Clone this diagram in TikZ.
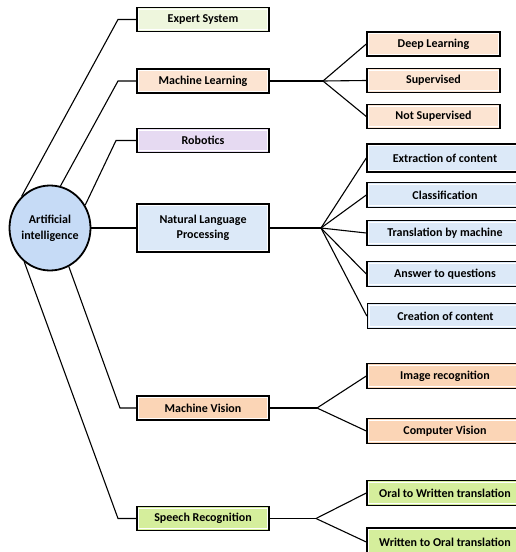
\documentclass[tikz,border=0pt]{standalone}
\usepackage{fontspec}
\setmainfont{Carlito}
\usetikzlibrary{shapes.geometric}
\definecolor{cES}{HTML}{EEF6DD}
\definecolor{cML}{HTML}{FCE4D2}
\definecolor{cRB}{HTML}{E6DAF2}
\definecolor{cNLP}{HTML}{DCE9F8}
\definecolor{cMV}{HTML}{FBD5B6}
\definecolor{cSR}{HTML}{D5EE9C}
\definecolor{cAI}{HTML}{C6DBF6}
\tikzset{
  box/.style={draw=black, line width=1.4pt, font=\bfseries\fontsize{12}{13}\selectfont,
    inner sep=0pt, align=center,
    path picture={\draw[white, line width=0.9pt]
      ([shift={(1.6pt,-1.6pt)}]path picture bounding box.north west) rectangle
      ([shift={(-1.6pt,1.6pt)}]path picture bounding box.south east);}},
  lone/.style={box, minimum width=132pt, minimum height=24pt},
  ltwo/.style={box, minimum width=133pt, minimum height=24pt},
  lwide/.style={box, minimum width=156pt, minimum height=25pt},
  conn/.style={line width=1.1pt, black},
}
\begin{document}
\begin{tikzpicture}[x=1pt, y=-1pt]
\useasboundingbox (0,0) rectangle (515,552);
% root
\node[ellipse, draw=black, line width=1.8pt, fill=cAI, minimum width=77pt, minimum height=85pt,
  inner sep=0pt, align=center, font=\bfseries\fontsize{12}{16}\selectfont] (ai) at (50,228) {Artificial\\intelligence};
% level 1
\node[lone, fill=cES] (es) at (203,19.5) {Expert System};
\node[lone, fill=cML] (ml) at (203,81) {Machine Learning};
\node[lone, fill=cRB] (rb) at (203,140.5) {Robotics};
\node[lone, fill=cNLP, minimum height=48pt] (nlp) at (203,228) {Natural Language\\[2pt]Processing};
\node[lone, fill=cMV] (mv) at (203,408) {Machine Vision};
\node[lone, fill=cSR] (sr) at (203,518.5) {Speech Recognition};
% elbows
\coordinate (ees) at (118,19.5);
\coordinate (eml) at (118,81);
\coordinate (erb) at (116,140.5);
\coordinate (emv) at (120,408);
\coordinate (esr) at (118,518.5);
\draw[conn] (ai.132) -- (ees) -- (es.west);
\draw[conn] (ai.76) -- (eml) -- (ml.west);
\draw[conn] (ai.33) -- (erb) -- (rb.west);
\draw[conn] (ai) -- (nlp);
\draw[conn] (ai.-64) -- (emv) -- (mv.west);
\draw[conn] (ai.-127) -- (esr) -- (sr.west);
% ML children
\node[ltwo, fill=cML] (dl) at (433.5,44) {Deep Learning};
\node[ltwo, fill=cML] (sup) at (433.5,80.5) {Supervised};
\node[ltwo, fill=cML] (ns) at (433.5,116.5) {Not Supervised};
\coordinate (bml) at (323,81);
\draw[conn] (ml.east) -- (bml);
\foreach \c in {dl,sup,ns} \draw[conn] (bml) -- (\c.west);
% NLP children
\node[lwide, fill=cNLP, minimum height=28pt] (ex) at (445,158) {Extraction of content};
\node[lwide, fill=cNLP] (cl) at (445,195) {Classification};
\node[lwide, fill=cNLP] (tr) at (445,233) {Translation by machine};
\node[lwide, fill=cNLP] (an) at (445,274) {Answer to questions};
\node[lwide, fill=cNLP] (cr) at (445.5,316) {Creation of content};
\coordinate (bnlp) at (321,228);
\draw[conn] (nlp.east) -- (bnlp);
\foreach \c in {ex,cl,tr,an,cr} \draw[conn] (bnlp) -- (\c.west);
% MV children
\node[lwide, fill=cMV] (ir) at (445,376) {Image recognition};
\node[lwide, fill=cMV] (cv) at (445,431) {Computer Vision};
\coordinate (bmv) at (317,408);
\draw[conn] (mv.east) -- (bmv);
\foreach \c in {ir,cv} \draw[conn] (bmv) -- (\c.west);
% SR children
\node[lwide, fill=cSR] (ow) at (445,493) {Oral to Written translation};
\node[lwide, fill=cSR, minimum height=28pt] (wo) at (445,542) {Written to Oral translation};
\coordinate (bsr) at (316,518.5);
\draw[conn] (sr.east) -- (bsr);
\foreach \c in {ow,wo} \draw[conn] (bsr) -- (\c.west);
\end{tikzpicture}
\end{document}
